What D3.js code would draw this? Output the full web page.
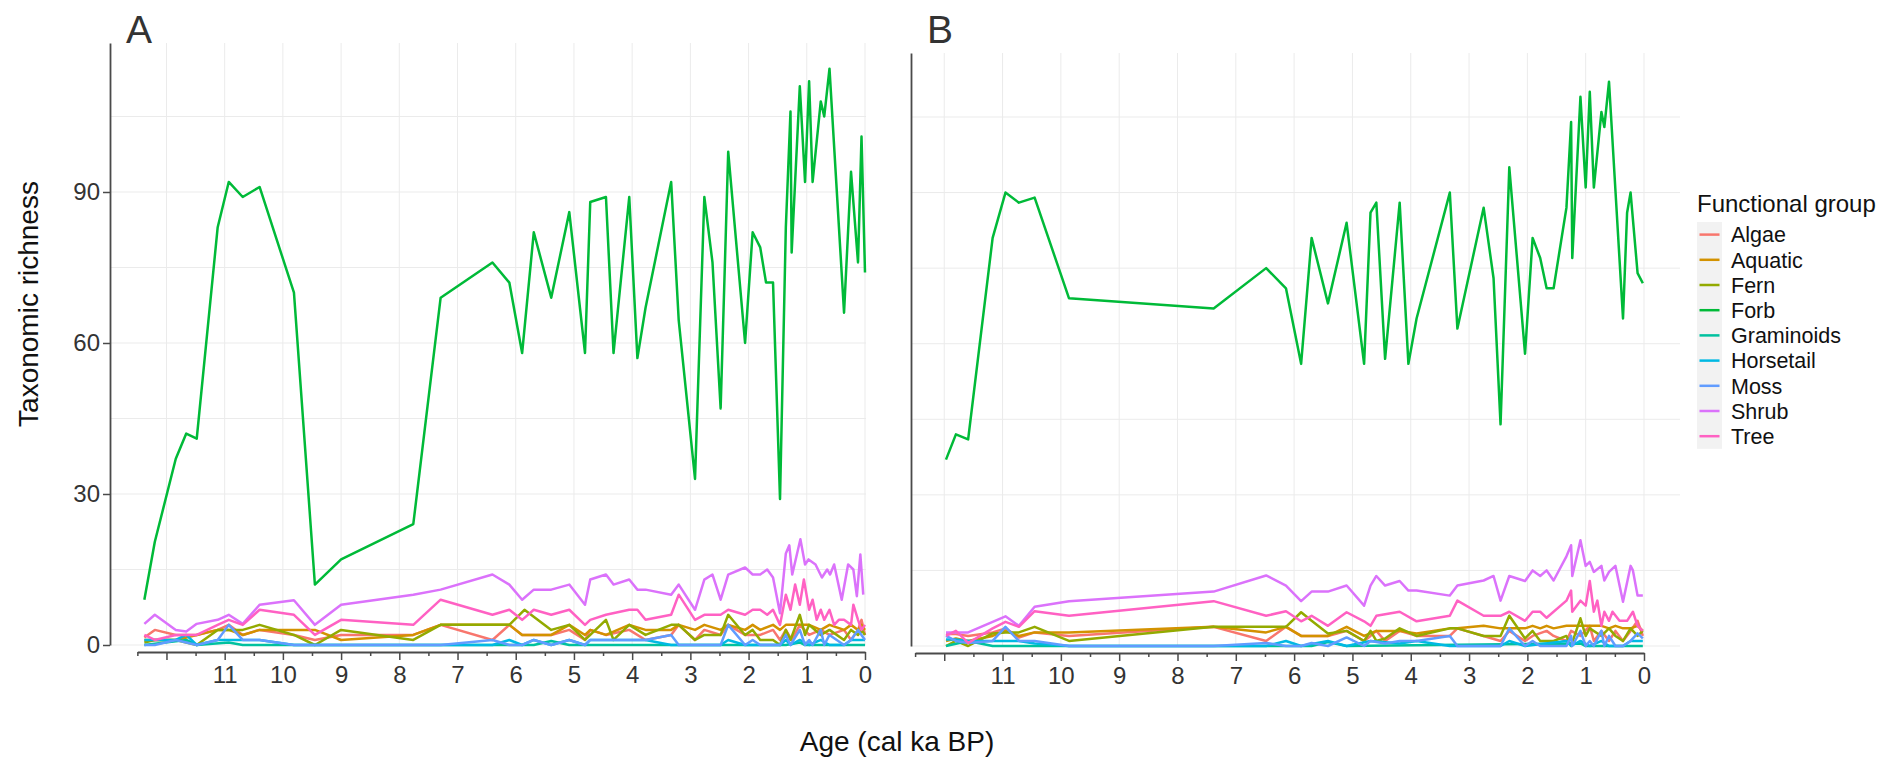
<!DOCTYPE html>
<html>
<head>
<meta charset="utf-8">
<script src="https://cdn.jsdelivr.net/npm/d3@7/dist/d3.min.js"></script>
<style>
  html, body { margin: 0; padding: 0; background: #fff; }
  svg { display: block; font-family: 'Liberation Sans', Arial, sans-serif; }
  .tick text { fill: #333; }
</style>
</head>
<body>
<svg id="chart" width="1885" height="759"></svg>
<script>
'use strict';

// functional groups, in the legend / drawing order
const groups = ['Algae', 'Aquatic', 'Fern', 'Forb', 'Graminoids', 'Horsetail', 'Moss', 'Shrub', 'Tree'];
const groupColours = ['#F8766D', '#D39200', '#93AA00', '#00BA38', '#00C19F', '#00B9E3', '#619CFF', '#DB72FB', '#FF61C3'];

const yTicks = [0, 30, 60, 90];
const yGrid = [0, 15, 30, 45, 60, 75, 90, 105];
const xMajorTicks = [0, 1, 2, 3, 4, 5, 6, 7, 8, 9, 10, 11, 12];
const xMinorTicks = [0.5, 1.5, 2.5, 3.5, 4.5, 5.5, 6.5, 7.5, 8.5, 9.5, 10.5, 11.5, 12.5];
const xTickLabels = ['0', '1', '2', '3', '4', '5', '6', '7', '8', '9', '10', '11', ''];

// ---- panel A : [age (cal ka BP), richness]
const forbA = [[12.38, 9], [12.2, 20.5], [11.84, 37], [11.66, 42], [11.48, 41], [11.12, 83], [10.93, 92], [10.69, 89],
  [10.40, 91], [9.81, 70], [9.45, 12], [9.00, 17], [7.76, 24], [7.29, 69], [6.40, 76], [6.11, 72], [5.89, 58],
  [5.69, 82], [5.39, 69], [5.08, 86], [4.81, 58], [4.72, 88], [4.45, 89], [4.32, 58], [4.05, 89], [3.91, 57],
  [3.77, 67], [3.33, 92], [3.20, 64.5], [2.92, 33], [2.76, 89], [2.62, 76], [2.48, 47], [2.35, 98], [2.06, 60],
  [1.93, 82], [1.80, 79], [1.70, 72], [1.58, 72], [1.46, 29], [1.36, 83], [1.28, 106], [1.26, 78], [1.12, 111],
  [1.03, 92], [0.96, 112], [0.90, 92], [0.76, 108], [0.70, 105], [0.61, 114.5], [0.36, 66], [0.24, 94], [0.12, 76],
  [0.06, 101], [0.0, 74]];
const shrubA = [[12.38, 4.2], [12.2, 6], [11.84, 3], [11.66, 2.7], [11.48, 4.2], [11.12, 5], [10.93, 6], [10.69, 4.2],
  [10.40, 8], [9.81, 8.9], [9.45, 4], [9.00, 8], [7.76, 10], [7.29, 11], [6.40, 14], [6.11, 12], [5.89, 9], [5.69, 11],
  [5.39, 11], [5.08, 12], [4.81, 8], [4.72, 13], [4.45, 14], [4.32, 12], [4.05, 13], [3.91, 11], [3.77, 11], [3.33, 10],
  [3.20, 12], [2.92, 7], [2.76, 13], [2.62, 14], [2.48, 9], [2.35, 14], [2.06, 15.4], [1.93, 14], [1.80, 14],
  [1.68, 15], [1.58, 13.4], [1.46, 6.3], [1.36, 18.2], [1.30, 19.8], [1.25, 14], [1.11, 21], [1.03, 16], [0.97, 17],
  [0.85, 16], [0.74, 13.4], [0.65, 15], [0.60, 14], [0.53, 16], [0.40, 9], [0.29, 16], [0.20, 15], [0.14, 9.7],
  [0.08, 18], [0.03, 10]];
const treeA = [[12.38, 2], [12.2, 1], [11.84, 2], [11.48, 2], [11.12, 4], [10.93, 5], [10.69, 4], [10.40, 7],
  [9.81, 6], [9.45, 2], [9.00, 5], [7.76, 4], [7.29, 9], [6.40, 6], [6.11, 7], [5.89, 5], [5.69, 7], [5.39, 6],
  [5.08, 7], [4.81, 4], [4.72, 5], [4.45, 6], [4.05, 7], [3.91, 7], [3.77, 5], [3.33, 6], [3.20, 10], [2.92, 5],
  [2.76, 6], [2.48, 6], [2.35, 7], [2.06, 6], [1.93, 7], [1.80, 7], [1.68, 6], [1.58, 7], [1.46, 4], [1.36, 10],
  [1.28, 7], [1.20, 12], [1.12, 8], [1.05, 13], [0.96, 7], [0.90, 9], [0.83, 5], [0.76, 7], [0.70, 5], [0.61, 7],
  [0.53, 4], [0.45, 5], [0.36, 5], [0.24, 4], [0.20, 8], [0.12, 5], [0.06, 3], [0.0, 4]];
const algaeA = [[12.38, 1.5], [12.2, 3], [11.84, 2], [11.48, 2], [11.12, 3], [10.93, 4], [10.69, 2], [10.40, 3],
  [9.81, 2], [9.45, 1], [9.00, 2], [7.76, 2], [7.29, 4], [6.40, 1], [6.11, 4], [5.89, 2], [5.39, 2], [5.08, 3],
  [4.81, 1], [4.72, 3], [4.45, 2], [4.05, 3], [3.77, 1], [3.33, 2], [3.20, 4], [2.92, 1], [2.76, 3], [2.48, 2],
  [2.35, 4], [2.06, 2], [1.80, 2], [1.58, 3], [1.46, 1], [1.36, 3], [1.26, 1], [1.12, 4], [0.96, 2], [0.76, 3],
  [0.61, 2], [0.36, 3], [0.24, 1], [0.12, 3], [0.06, 5], [0.0, 2]];
const aquaticA = [[12.38, 1], [12.2, 1], [11.84, 1], [11.48, 2], [11.12, 3], [10.93, 3], [10.69, 2], [10.40, 3],
  [9.81, 3], [9.45, 3], [9.00, 1], [7.76, 2], [7.29, 4], [6.40, 4], [6.11, 4], [5.89, 2], [5.69, 2], [5.39, 2],
  [5.08, 4], [4.81, 2], [4.72, 3], [4.45, 2], [4.05, 4], [3.77, 3], [3.33, 3], [3.20, 4], [2.92, 3], [2.76, 4],
  [2.48, 3], [2.35, 4], [2.06, 3], [1.93, 4], [1.80, 3], [1.58, 4], [1.46, 3], [1.36, 4], [1.12, 4], [0.96, 4],
  [0.76, 3], [0.61, 4], [0.36, 3], [0.24, 4], [0.12, 3], [0.06, 4], [0.0, 3]];
const fernA = [[12.38, 0.5], [12.2, 1], [11.84, 1], [11.48, 0], [11.12, 3], [10.93, 3], [10.69, 3], [10.40, 4],
  [9.81, 2], [9.45, 0], [9.00, 3], [7.76, 1], [7.29, 4], [6.40, 4], [6.11, 4], [5.85, 7], [5.39, 3], [5.08, 4],
  [4.81, 1], [4.72, 2], [4.45, 5], [4.32, 1], [4.05, 4], [3.77, 2], [3.33, 4], [3.20, 4], [2.92, 1], [2.76, 2],
  [2.48, 2], [2.35, 6], [2.06, 2], [1.93, 3], [1.80, 1], [1.58, 1], [1.46, 0], [1.36, 3], [1.28, 1], [1.12, 6],
  [1.03, 2], [0.96, 4], [0.76, 2], [0.61, 3], [0.36, 1], [0.24, 3], [0.12, 2], [0.06, 3], [0.0, 2]];
const mossA = [[12.38, 0], [12.2, 0], [11.84, 1], [11.48, 0], [11.12, 1], [10.93, 4], [10.69, 1], [10.40, 1],
  [9.81, 0], [9.00, 0], [7.76, 0], [7.29, 0], [6.40, 1], [6.11, 0], [5.89, 0], [5.69, 1], [5.39, 0], [5.08, 1],
  [4.81, 0], [4.72, 1], [4.45, 1], [4.05, 1], [3.77, 1], [3.33, 2], [3.20, 0], [2.48, 0], [2.35, 4], [2.06, 0],
  [1.93, 1], [1.80, 0], [1.46, 0], [1.36, 2], [1.28, 0], [1.12, 3], [1.03, 0], [0.96, 1], [0.90, 0], [0.76, 3],
  [0.70, 0], [0.61, 2], [0.36, 0], [0.24, 1], [0.12, 3], [0.06, 2], [0.0, 1]];
const horsetailA = [[12.38, 1], [12.2, 1], [11.84, 1], [11.66, 2], [11.48, 0], [11.12, 1], [10.93, 1], [10.69, 1],
  [10.40, 1], [9.81, 0], [9.00, 0], [6.40, 0], [6.11, 1], [5.89, 0], [5.69, 1], [5.39, 0], [5.08, 1], [4.81, 0],
  [4.72, 1], [4.05, 1], [3.77, 1], [3.33, 0], [2.48, 0], [2.35, 1], [2.06, 0], [1.46, 0], [1.36, 1], [1.28, 0],
  [1.12, 1], [0.96, 0], [0.76, 1], [0.61, 0], [0.36, 0], [0.24, 1], [0.0, 1]];
const graminoidsA = [[12.38, 0], [11.66, 1], [11.48, 0], [10.93, 0.5], [10.69, 0], [5.69, 0], [5.39, 0.8],
  [5.08, 0], [1.36, 0], [1.12, 0.5], [1.03, 0], [0.0, 0]];

// ---- panel B
const forbB = [[11.97, 37], [11.80, 42], [11.59, 41], [11.17, 81], [10.95, 90], [10.72, 88], [10.45, 89], [9.86, 69],
  [7.38, 67], [6.48, 75], [6.14, 71], [5.88, 56], [5.70, 81], [5.42, 68], [5.10, 84], [4.80, 56], [4.69, 86],
  [4.59, 88], [4.44, 57], [4.19, 88], [4.04, 56], [3.90, 65], [3.33, 90], [3.20, 63], [2.75, 87], [2.58, 73],
  [2.46, 44], [2.31, 95], [2.04, 58], [1.91, 81], [1.78, 77], [1.67, 71], [1.55, 71], [1.33, 87], [1.25, 104],
  [1.23, 77], [1.09, 109], [1.00, 91], [0.93, 110], [0.86, 91], [0.73, 106], [0.68, 103], [0.60, 112], [0.36, 65],
  [0.29, 86], [0.23, 90], [0.11, 74], [0.02, 72]];
const shrubB = [[11.97, 2.7], [11.80, 2.7], [11.59, 2.7], [11.17, 4.8], [10.95, 5.9], [10.72, 4], [10.45, 7.8],
  [9.86, 8.9], [7.38, 10.8], [6.48, 14], [6.14, 12], [5.88, 8.9], [5.70, 10.8], [5.42, 10.8], [5.10, 12], [4.80, 8],
  [4.69, 12], [4.59, 13.9], [4.44, 12], [4.19, 12.9], [4.04, 11], [3.90, 11], [3.33, 10], [3.20, 12], [2.75, 13],
  [2.58, 13.9], [2.46, 9], [2.31, 13.9], [2.04, 12.9], [1.91, 15], [1.78, 13.9], [1.67, 15], [1.55, 13], [1.33, 17.8],
  [1.25, 20], [1.23, 13.9], [1.09, 21], [1.00, 15.9], [0.93, 16.7], [0.86, 14.7], [0.73, 15.9], [0.68, 13],
  [0.60, 14.7], [0.49, 15.9], [0.36, 8.8], [0.23, 15.9], [0.19, 15], [0.11, 10], [0.02, 10]];
const treeB = [[11.97, 2], [11.80, 3], [11.59, 0.6], [11.17, 3.5], [10.95, 4.8], [10.72, 3.8], [10.45, 6.9],
  [9.86, 6], [7.38, 8.9], [6.48, 6], [6.14, 6.9], [5.88, 4.9], [5.70, 6], [5.42, 4], [5.10, 6.7], [4.80, 4.9],
  [4.69, 4], [4.59, 6], [4.19, 6.8], [3.90, 4.9], [3.33, 6], [3.20, 9], [2.75, 6], [2.46, 6], [2.31, 6.8], [2.04, 5],
  [1.91, 6.8], [1.78, 6.8], [1.67, 5.6], [1.33, 9], [1.25, 11], [1.23, 6.8], [1.09, 9], [1.00, 8], [0.93, 12.9],
  [0.86, 6.8], [0.80, 9], [0.73, 4], [0.68, 6.8], [0.60, 5], [0.54, 6.8], [0.42, 5], [0.29, 5], [0.19, 6.8],
  [0.11, 4], [0.02, 3]];
const algaeB = [[11.97, 2.4], [11.80, 2.4], [11.59, 2], [11.17, 2.7], [10.95, 3.5], [10.72, 1.7], [10.45, 2.7],
  [9.86, 2], [7.38, 3.8], [6.48, 1], [6.14, 3.8], [5.88, 2], [5.70, 2], [5.42, 2], [5.10, 3], [4.80, 1], [4.69, 2],
  [4.59, 3], [4.44, 1], [4.19, 3], [3.90, 2], [3.33, 2], [3.20, 3.5], [2.75, 2], [2.46, 1], [2.31, 3], [2.04, 1],
  [1.91, 2], [1.67, 3], [1.55, 2], [1.33, 1], [1.25, 3], [1.09, 2], [0.93, 4], [0.86, 1], [0.73, 3], [0.60, 1],
  [0.49, 3], [0.36, 1], [0.23, 3], [0.11, 5], [0.02, 2]];
const aquaticB = [[11.97, 1], [11.80, 1.5], [11.59, 1], [11.17, 2], [10.95, 3], [10.72, 2], [10.45, 2.7], [9.86, 2.7],
  [7.38, 3.8], [6.48, 2.7], [6.14, 3.8], [5.88, 2], [5.70, 2], [5.42, 2], [5.10, 3.8], [4.80, 2], [4.59, 3],
  [4.19, 3], [3.90, 2.5], [3.33, 3.5], [3.20, 3.5], [2.75, 4], [2.46, 3.5], [2.31, 3.5], [2.04, 3.5], [1.91, 4],
  [1.78, 3.5], [1.67, 4], [1.55, 3.5], [1.33, 4], [1.09, 4], [0.93, 4], [0.73, 4], [0.60, 3.5], [0.49, 4],
  [0.36, 3.5], [0.23, 3.5], [0.11, 4], [0.02, 3]];
const fernB = [[11.97, 0], [11.80, 1], [11.59, 0], [11.17, 2.5], [10.95, 2.7], [10.72, 2.7], [10.45, 3.8], [9.86, 1],
  [7.38, 3.8], [6.48, 3.8], [6.14, 3.8], [5.88, 6.7], [5.70, 5], [5.42, 2.5], [5.10, 3], [4.80, 1], [4.69, 3],
  [4.59, 1], [4.44, 1.5], [4.19, 3.5], [3.90, 2], [3.33, 3.5], [3.20, 3.5], [2.75, 2], [2.46, 2], [2.31, 6],
  [2.04, 1.5], [1.91, 3], [1.78, 1], [1.55, 1], [1.33, 2], [1.25, 0], [1.09, 5.5], [1.00, 2], [0.93, 3.5], [0.73, 2],
  [0.60, 3.5], [0.49, 2], [0.36, 1], [0.23, 3.5], [0.11, 2], [0.02, 3]];
const mossB = [[11.97, 2], [11.80, 1], [11.59, 0.6], [11.17, 1], [10.95, 3.8], [10.72, 1], [10.45, 1], [9.86, 0],
  [7.38, 0], [6.48, 0.6], [6.14, 0], [5.88, 0], [5.70, 0.6], [5.42, 0], [5.10, 1.7], [4.80, 0], [4.69, 1], [4.44, 0.5],
  [4.19, 1], [3.90, 1], [3.33, 2], [3.20, 0], [2.46, 0], [2.31, 3.5], [2.04, 0], [1.91, 1], [1.78, 0], [1.33, 0],
  [1.25, 2], [1.23, 0], [1.09, 3], [1.00, 0], [0.93, 1], [0.86, 0], [0.73, 3], [0.68, 0], [0.60, 2], [0.49, 0],
  [0.36, 0], [0.23, 1], [0.11, 2.5], [0.02, 1.5]];
const horsetailB = [[11.97, 1.3], [11.80, 1.3], [11.59, 1], [11.17, 1], [10.95, 1], [10.72, 1], [10.45, 0.5],
  [9.86, 0], [7.38, 0], [6.48, 0], [6.14, 1], [5.88, 0], [5.42, 1], [5.10, 0], [4.69, 1], [4.19, 0.5], [3.90, 1],
  [3.33, 0], [2.46, 0], [2.31, 1], [2.04, 0], [1.33, 1], [1.25, 0], [1.09, 1], [0.93, 0], [0.73, 1], [0.60, 0],
  [0.36, 0], [0.23, 1], [0.02, 1]];
const graminoidsB = [[11.97, 0], [11.59, 1], [11.17, 0], [5.70, 0], [5.42, 0.8], [5.10, 0], [1.09, 0.5], [1.00, 0],
  [0.02, 0]];

const panels = [
  {
    letter: 'A', showYLabels: true,
    left: 110, zeroX: 865, gridRight: 866, top: 43, zeroY: 645, axisY: 652,
    xLeft: 12.97, yTop: 119.6,
    series: [algaeA, aquaticA, fernA, forbA, graminoidsA, horsetailA, mossA, shrubA, treeA]
  },
  {
    letter: 'B', showYLabels: false,
    left: 911, zeroX: 1644, gridRight: 1680, top: 53, zeroY: 646, axisY: 653,
    xLeft: 12.57, yTop: 117.7,
    series: [algaeB, aquaticB, fernB, forbB, graminoidsB, horsetailB, mossB, shrubB, treeB]
  }
];

const svg = d3.select('#chart');
svg.append('rect').attr('width', 1885).attr('height', 759).attr('fill', '#fff');

const textColour = '#333';
const axisColour = '#4a4a4a';
const gridColour = '#ebebeb';

panels.forEach(p => {
  const x = d3.scaleLinear().domain([p.xLeft, 0]).range([p.left, p.zeroX]);
  const y = d3.scaleLinear().domain([0, p.yTop]).range([p.zeroY, p.top]);
  const g = svg.append('g').attr('class', 'panel panel-' + p.letter);

  // grid
  g.append('g').selectAll('line.hgrid')
    .data(yGrid)
    .enter()
    .append('line')
    .attr('x1', p.left).attr('x2', p.gridRight)
    .attr('y1', d => y(d)).attr('y2', d => y(d))
    .attr('stroke', gridColour).attr('stroke-width', 1);
  g.append('g').selectAll('line.vgrid')
    .data(xMajorTicks)
    .enter()
    .append('line')
    .attr('x1', d => x(d)).attr('x2', d => x(d))
    .attr('y1', p.top).attr('y2', p.zeroY)
    .attr('stroke', gridColour).attr('stroke-width', 1);

  // series
  const line = d3.line().x(d => x(d[0])).y(d => y(d[1]));
  g.append('g').selectAll('path')
    .data(p.series)
    .enter()
    .append('path')
    .attr('d', line)
    .attr('fill', 'none')
    .attr('stroke', (d, i) => groupColours[i])
    .attr('stroke-width', 2.5)
    .attr('stroke-linejoin', 'round');

  // y axis
  const yAxis = d3.axisLeft(y)
    .tickValues(p.showYLabels ? yTicks : [])
    .tickSize(7)
    .tickSizeOuter(0)
    .tickPadding(3);
  const ya = g.append('g')
    .attr('transform', `translate(${p.left},0)`)
    .call(yAxis);
  ya.select('.domain').attr('stroke', axisColour).attr('stroke-width', 1.8);
  ya.selectAll('.tick line').attr('stroke', axisColour).attr('stroke-width', 1.5);
  ya.selectAll('.tick text').attr('font-size', 24).attr('fill', textColour);

  // x axis, running from 12.5 to 0
  const xAxisScale = x.copy().domain([12.5, 0]).range([x(12.5), x(0)]);
  const xa = g.append('g')
    .attr('transform', `translate(0,${p.axisY})`)
    .call(d3.axisBottom(xAxisScale)
      .tickValues(xMajorTicks)
      .tickFormat((d, i) => xTickLabels[i])
      .tickSize(8)
      .tickSizeOuter(0)
      .tickPadding(6));
  xa.select('.domain').attr('stroke', axisColour).attr('stroke-width', 2.2);
  xa.selectAll('.tick line').attr('stroke', axisColour).attr('stroke-width', 1.5);
  xa.selectAll('.tick text').attr('font-size', 24).attr('fill', textColour);

  const xm = g.append('g')
    .attr('transform', `translate(0,${p.axisY})`)
    .call(d3.axisBottom(xAxisScale)
      .tickValues(xMinorTicks)
      .tickFormat('')
      .tickSize(4)
      .tickSizeOuter(0));
  xm.select('.domain').remove();
  xm.selectAll('.tick line').attr('stroke', axisColour).attr('stroke-width', 1.5);

  g.append('text')
    .attr('x', p.letter === 'A' ? 126 : 927)
    .attr('y', 43)
    .attr('font-size', 39)
    .attr('fill', textColour)
    .text(p.letter);
});

// axis titles
svg.append('text')
  .attr('transform', 'translate(38,304) rotate(-90)')
  .attr('text-anchor', 'middle')
  .attr('font-size', 28)
  .attr('fill', '#111')
  .text('Taxonomic richness');

svg.append('text')
  .attr('x', 897)
  .attr('y', 751)
  .attr('text-anchor', 'middle')
  .attr('font-size', 28)
  .attr('fill', '#111')
  .text('Age (cal ka BP)');

// LEGEND
const legendX = 1697;
const keyTop = 222;
const keyH = 25.2;
const legend = svg.append('g').attr('class', 'legend');

legend.append('text')
  .attr('x', legendX)
  .attr('y', 212)
  .attr('font-size', 24)
  .attr('fill', '#111')
  .text('Functional group');

legend.append('rect')
  .attr('x', legendX)
  .attr('y', keyTop)
  .attr('width', 25)
  .attr('height', keyH * groups.length)
  .attr('fill', '#f2f2f2');

const item = legend.selectAll('g.item')
  .data(groups)
  .enter()
  .append('g')
  .attr('class', 'item')
  .attr('transform', (d, i) => `translate(${legendX},${keyTop + keyH * i + keyH / 2})`);

item.append('line')
  .attr('x1', 2.5).attr('x2', 22.5)
  .attr('y1', 0).attr('y2', 0)
  .attr('stroke', (d, i) => groupColours[i])
  .attr('stroke-width', 2.5);

item.append('text')
  .attr('x', 34)
  .attr('y', 0)
  .attr('dy', '0.36em')
  .attr('font-size', 21.5)
  .attr('fill', '#111')
  .text(d => d);
</script>
</body>
</html>
